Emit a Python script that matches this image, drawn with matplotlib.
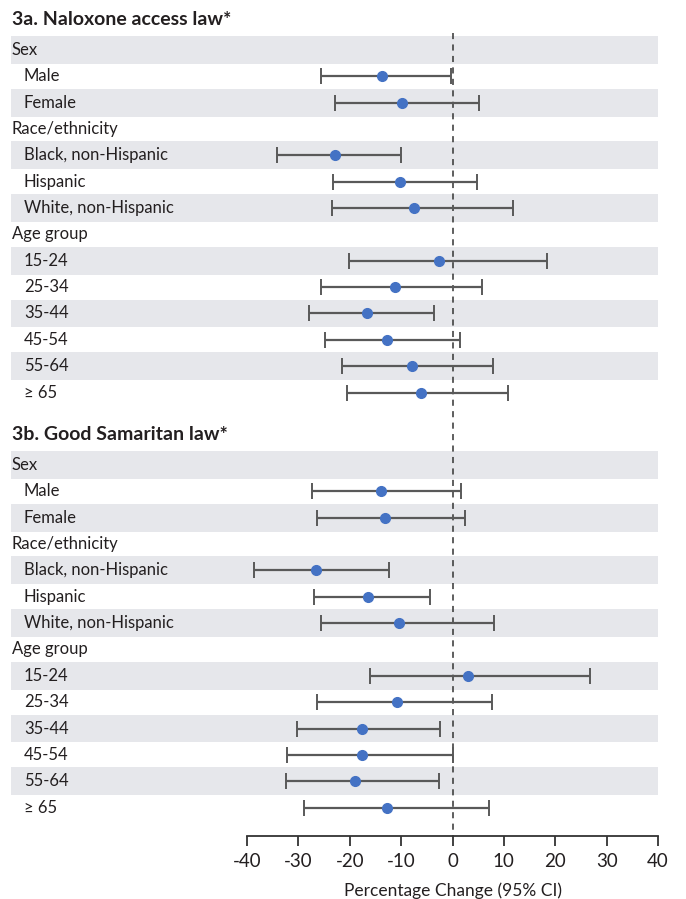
import matplotlib
matplotlib.use("Agg")
import matplotlib.pyplot as plt
import numpy as np

plt.rcParams['font.family'] = ['Lato', 'DejaVu Sans']

# row labels (same for both panels); None = header row without estimate
rows = ["Sex", "Male", "Female", "Race/ethnicity", "Black, non-Hispanic",
        "Hispanic", "White, non-Hispanic", "Age group", "15-24", "25-34",
        "35-44", "45-54", "55-64", "\u2265 65"]
is_header = [True, False, False, True, False, False, False, True,
             False, False, False, False, False, False]

# 3a. Naloxone access law
nal_est = [None, -13.8, -9.8, None, -22.9, -10.3, -7.5, None, -2.7, -11.1, -16.6, -12.7, -7.9, -6.2]
nal_lo = [None, -25.6, -22.8, None, -34.1, -23.2, -23.4, None, -20.1, -25.5, -28.0, -24.9, -21.6, -20.6]
nal_hi = [None, -0.3, 5.2, None, -10.0, 4.8, 11.8, None, 18.4, 5.8, -3.6, 1.4, 7.9, 10.9]

# 3b. Good Samaritan law
gs_est = [None, -13.9, -13.1, None, -26.6, -16.4, -10.4, None, 3.1, -10.8, -17.6, -17.7, -18.9, -12.7]
gs_lo = [None, -27.3, -26.4, None, -38.6, -26.9, -25.6, None, -16.1, -26.3, -30.2, -32.2, -32.5, -29.0]
gs_hi = [None, 1.7, 2.5, None, -12.3, -4.4, 8.1, None, 26.8, 7.7, -2.5, 0.0, -2.7, 7.2]

panels = [("3a. Naloxone access law*", nal_est, nal_lo, nal_hi),
          ("3b. Good Samaritan law*", gs_est, gs_lo, gs_hi)]
xticks = [-40, -30, -20, -10, 0, 10, 20, 30, 40]

band_col = "#e6e7eb"
dot_col = "#4472c4"
bar_col = "#595959"
ink = "#231f20"

W, H = 686, 899
fig = plt.figure(figsize=(W / 100, H / 100), dpi=100)
ax = fig.add_axes([11 / W, (H - 836) / H, 647 / W, 836 / H])

row_h = 26.35          # px per row
panel_gap = 15.75      # rows between panel starts
y_bottom = (836 - 50) / row_h
y_top = -50 / row_h
ax.set_ylim(y_bottom, y_top)
x_left = -40 - (247 - 11) / (411 / 80)
ax.set_xlim(x_left, 40)

ytr = ax.get_yaxis_transform()
for p, (title, est, lo, hi) in enumerate(panels):
    off = p * panel_gap
    ax.text(0.0015, off - 1.16, title, transform=ytr, fontsize=14,
            fontweight='bold', color=ink, va='center', ha='left')
    for i, lab in enumerate(rows):
        y = off + i
        if i % 2 == 0:
            ax.axhspan(y - 0.53, y + 0.53, color=band_col, lw=0, zorder=0)
        xpos = 0.0015 if is_header[i] else 0.02
        ax.text(xpos, y, lab, transform=ytr, fontsize=12, color=ink,
                va='center', ha='left')
    idx = [i for i in range(len(rows)) if est[i] is not None]
    yy = np.array(idx) + off
    e = np.array([est[i] for i in idx])
    l = np.array([lo[i] for i in idx])
    h = np.array([hi[i] for i in idx])
    ax.errorbar(e, yy, xerr=[e - l, h - e], fmt='none', ecolor=bar_col,
                elinewidth=1.6, capsize=5.5, capthick=1.4, zorder=3)
    ax.plot(e, yy, 'o', color=dot_col, ms=7, zorder=4)

ax.vlines(0, -0.65, y_bottom, colors="#333333", lw=1.1,
          linestyles=(0, (4, 3.5)), zorder=2)

for s in ['top', 'left', 'right']:
    ax.spines[s].set_visible(False)
ax.spines['bottom'].set_bounds(-40, 40)
ax.spines['bottom'].set_color("#333333")
ax.spines['bottom'].set_linewidth(1.3)
ax.set_yticks([])
ax.set_xticks(xticks)
ax.set_xticklabels([str(t) for t in xticks])
ax.tick_params(axis='x', direction='out', length=7, width=1.3, color="#333333",
               labelsize=13.5, labelcolor=ink, pad=5)
ax.text(0, -0.065, "Percentage Change (95% CI)", transform=ax.get_xaxis_transform(),
        ha='center', va='center', fontsize=12.5, color=ink)

fig.savefig("out.png", dpi=100)
